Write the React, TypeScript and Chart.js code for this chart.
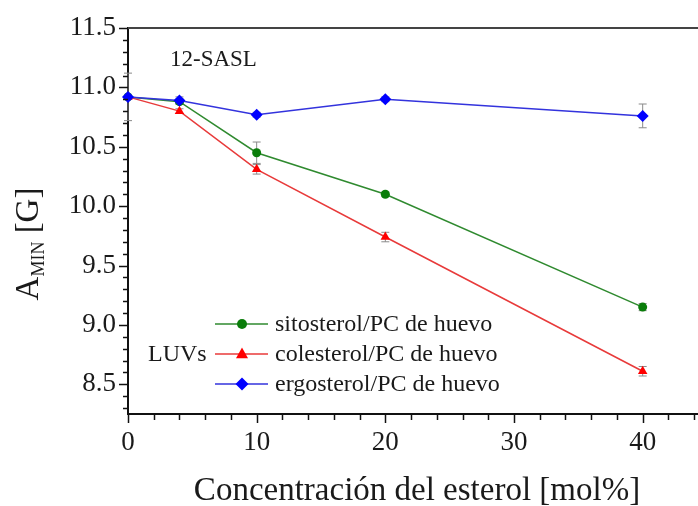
import React, { useEffect, useRef } from "react";
import { Chart, registerables } from "chart.js";

Chart.register(...registerables);

const concentrations = [0, 4, 10, 20, 40];
const sitosterol = [10.92, 10.88, 10.45, 10.1, 9.15];
const sitosterolErr = [0, 0.02, 0.09, 0.02, 0.03];
const colesterol = [10.92, 10.8, 10.31, 9.74, 8.61];
const colesterolErr = [0, 0.02, 0.04, 0.04, 0.04];
const ergosterol = [10.92, 10.89, 10.77, 10.9, 10.76];
const ergosterolErr = [0.2, 0.03, 0.02, 0.02, 0.1];

const seriesLabels = [
  "sitosterol/PC de huevo",
  "colesterol/PC de huevo",
  "ergosterol/PC de huevo",
];
const xTickValues = [0, 10, 20, 30, 40];
const yTickValues = [8.5, 9.0, 9.5, 10.0, 10.5, 11.0, 11.5];

const SERIF = "Liberation Serif";
Chart.defaults.font.family = SERIF;

const toPoints = (ys: number[]) => concentrations.map((x, i) => ({ x, y: ys[i] }));

function drawMarker(ctx: CanvasRenderingContext2D, style: string, x: number, y: number, r: number, color: string) {
  ctx.save();
  ctx.fillStyle = color;
  ctx.beginPath();
  if (style === "circle") {
    ctx.arc(x, y, r, 0, Math.PI * 2);
  } else if (style === "triangle") {
    ctx.moveTo(x, y - r * 1.1);
    ctx.lineTo(x + r, y + r * 0.7);
    ctx.lineTo(x - r, y + r * 0.7);
    ctx.closePath();
  } else {
    ctx.moveTo(x, y - r);
    ctx.lineTo(x + r, y);
    ctx.lineTo(x, y + r);
    ctx.lineTo(x - r, y);
    ctx.closePath();
  }
  ctx.fill();
  ctx.restore();
}

const errorBarsPlugin = {
  id: "errorBars",
  beforeDatasetsDraw(chart: any) {
    const ctx = chart.ctx;
    const xs = chart.scales.x;
    const ys = chart.scales.y;
    ctx.save();
    ctx.strokeStyle = "#8a8a8a";
    ctx.lineWidth = 1;
    chart.data.datasets.forEach((ds: any) => {
      const errs: number[] = ds.errors || [];
      ds.data.forEach((p: any, i: number) => {
        const e = errs[i];
        if (!e) return;
        const px = xs.getPixelForValue(p.x);
        const top = ys.getPixelForValue(p.y + e);
        const bot = ys.getPixelForValue(p.y - e);
        ctx.beginPath();
        ctx.moveTo(px, top);
        ctx.lineTo(px, bot);
        ctx.moveTo(px - 4, top);
        ctx.lineTo(px + 4, top);
        ctx.moveTo(px - 4, bot);
        ctx.lineTo(px + 4, bot);
        ctx.stroke();
      });
    });
    ctx.restore();
  },
};

const frameTicksPlugin = {
  id: "frameTicks",
  afterDraw(chart: any) {
    const ctx = chart.ctx;
    const xs = chart.scales.x;
    const ys = chart.scales.y;
    const area = chart.chartArea;
    ctx.save();
    ctx.strokeStyle = "#444";
    ctx.lineWidth = 2;
    ctx.beginPath();
    ctx.moveTo(area.left, area.top);
    ctx.lineTo(area.right, area.top);
    ctx.stroke();
    ctx.strokeStyle = "#111";
    ctx.lineWidth = 1.5;
    for (let k = Math.ceil(ys.min * 10); k <= Math.floor(ys.max * 10 + 1e-6); k++) {
      const v = k / 10;
      const major = k % 5 === 0;
      const py = Math.round(ys.getPixelForValue(v)) + 0.5;
      ctx.beginPath();
      ctx.moveTo(area.left, py);
      ctx.lineTo(area.left - (major ? 9 : 5), py);
      ctx.stroke();
    }
    for (let v = 0; v <= xs.max; v += 2) {
      const major = v % 10 === 0;
      const px = Math.round(xs.getPixelForValue(v)) + 0.5;
      ctx.beginPath();
      ctx.moveTo(px, area.bottom);
      ctx.lineTo(px, area.bottom + (major ? 9 : 6));
      ctx.stroke();
    }
    ctx.restore();
  },
};

const annotationsPlugin = {
  id: "annotations",
  afterDraw(chart: any) {
    const ctx = chart.ctx;
    ctx.save();
    ctx.fillStyle = "#1a1a1a";
    ctx.font = `23px ${SERIF}`;
    ctx.textAlign = "left";
    ctx.textBaseline = "alphabetic";
    ctx.fillText("12-SASL", 170, 66);

    const rows = [324, 354, 384];
    chart.data.datasets.forEach((ds: any, i: number) => {
      const y = rows[i];
      ctx.strokeStyle = ds.borderColor;
      ctx.lineWidth = 1.5;
      ctx.beginPath();
      ctx.moveTo(215, y);
      ctx.lineTo(268, y);
      ctx.stroke();
      drawMarker(ctx, ds.pointStyle === "rectRot" ? "diamond" : ds.pointStyle, 242, y, ds.pointRadius + 0.5, ds.pointBackgroundColor);
      ctx.fillStyle = "#1a1a1a";
      ctx.font = `24px ${SERIF}`;
      ctx.textBaseline = "middle";
      ctx.fillText(ds.label, 275, y + 1);
    });
    ctx.font = `24px ${SERIF}`;
    ctx.textBaseline = "middle";
    ctx.fillText("LUVs", 148, 355);

    ctx.font = `33px ${SERIF}`;
    ctx.textAlign = "center";
    ctx.textBaseline = "alphabetic";
    ctx.fillText("Concentración del esterol [mol%]", 417, 500);

    ctx.translate(38, 244);
    ctx.rotate(-Math.PI / 2);
    const big = `33px ${SERIF}`;
    const small = `18px ${SERIF}`;
    ctx.font = big;
    const wA = ctx.measureText("A").width;
    ctx.font = small;
    const wSub = ctx.measureText("MIN").width;
    ctx.font = big;
    const wG = ctx.measureText(" [G]").width;
    const total = wA + wSub + wG;
    let x0 = -total / 2;
    ctx.textAlign = "left";
    ctx.font = big;
    ctx.fillText("A", x0, 0);
    x0 += wA;
    ctx.font = small;
    ctx.fillText("MIN", x0, 6);
    x0 += wSub;
    ctx.font = big;
    ctx.fillText(" [G]", x0, 0);
    ctx.restore();
  },
};

export default function App() {
  const canvasRef = useRef<HTMLCanvasElement | null>(null);

  useEffect(() => {
    if (!canvasRef.current) return;
    const mk = (label: string, ys: number[], errs: number[], line: string, fill: string, style: string, r: number, order: number) => ({
      label,
      data: toPoints(ys),
      errors: errs,
      borderColor: line,
      backgroundColor: fill,
      pointBackgroundColor: fill,
      pointBorderColor: fill,
      pointBorderWidth: 0,
      pointStyle: style,
      pointRadius: r,
      borderWidth: 1.5,
      tension: 0,
      clip: false,
      order,
    });
    const chart = new Chart(canvasRef.current, {
      type: "line",
      data: {
        datasets: [
          mk(seriesLabels[0], sitosterol, sitosterolErr, "#2f8a2f", "#0a7d0a", "circle", 4.5, 2),
          mk(seriesLabels[1], colesterol, colesterolErr, "#e83a3a", "#ff0000", "triangle", 5.5, 1),
          mk(seriesLabels[2], ergosterol, ergosterolErr, "#3333dd", "#0000ff", "rectRot", 6, 0),
        ] as any,
      },
      options: {
        animation: false,
        responsive: false,
        devicePixelRatio: 1,
        layout: { autoPadding: false, padding: { top: 28, left: 0, right: 0, bottom: 0 } },
        plugins: { legend: { display: false }, tooltip: { enabled: false } },
        scales: {
          x: {
            type: "linear",
            min: 0,
            max: 44.3,
            grid: { display: false, drawTicks: false },
            border: { display: true, color: "#111", width: 2 },
            afterFit: (s: any) => {
              s.height = 92;
              s.paddingLeft = 0;
              s.paddingRight = 0;
            },
            afterBuildTicks: (s: any) => {
              s.ticks = xTickValues.map((v) => ({ value: v }));
            },
            ticks: {
              padding: 13,
              maxRotation: 0,
              color: "#1a1a1a",
              font: { family: SERIF, size: 27 },
              callback: (v: any) => String(v),
            },
          },
          y: {
            type: "linear",
            min: 8.25,
            max: 11.5,
            grid: { display: false, drawTicks: false },
            border: { display: true, color: "#111", width: 2 },
            afterFit: (s: any) => {
              s.width = 128;
              s.paddingTop = 0;
              s.paddingBottom = 0;
            },
            afterBuildTicks: (s: any) => {
              s.ticks = yTickValues.map((v) => ({ value: v }));
            },
            ticks: {
              padding: 12,
              color: "#1a1a1a",
              font: { family: SERIF, size: 27 },
              callback: (v: any) => Number(v).toFixed(1),
            },
          },
        },
      } as any,
      plugins: [errorBarsPlugin, frameTicksPlugin, annotationsPlugin],
    });
    return () => chart.destroy();
  }, []);

  return (
    <div style={{ position: "fixed", left: 0, top: 0, width: 698, height: 506, background: "#fff" }}>
      <canvas ref={canvasRef} width={698} height={506} style={{ display: "block" }} />
    </div>
  );
}
